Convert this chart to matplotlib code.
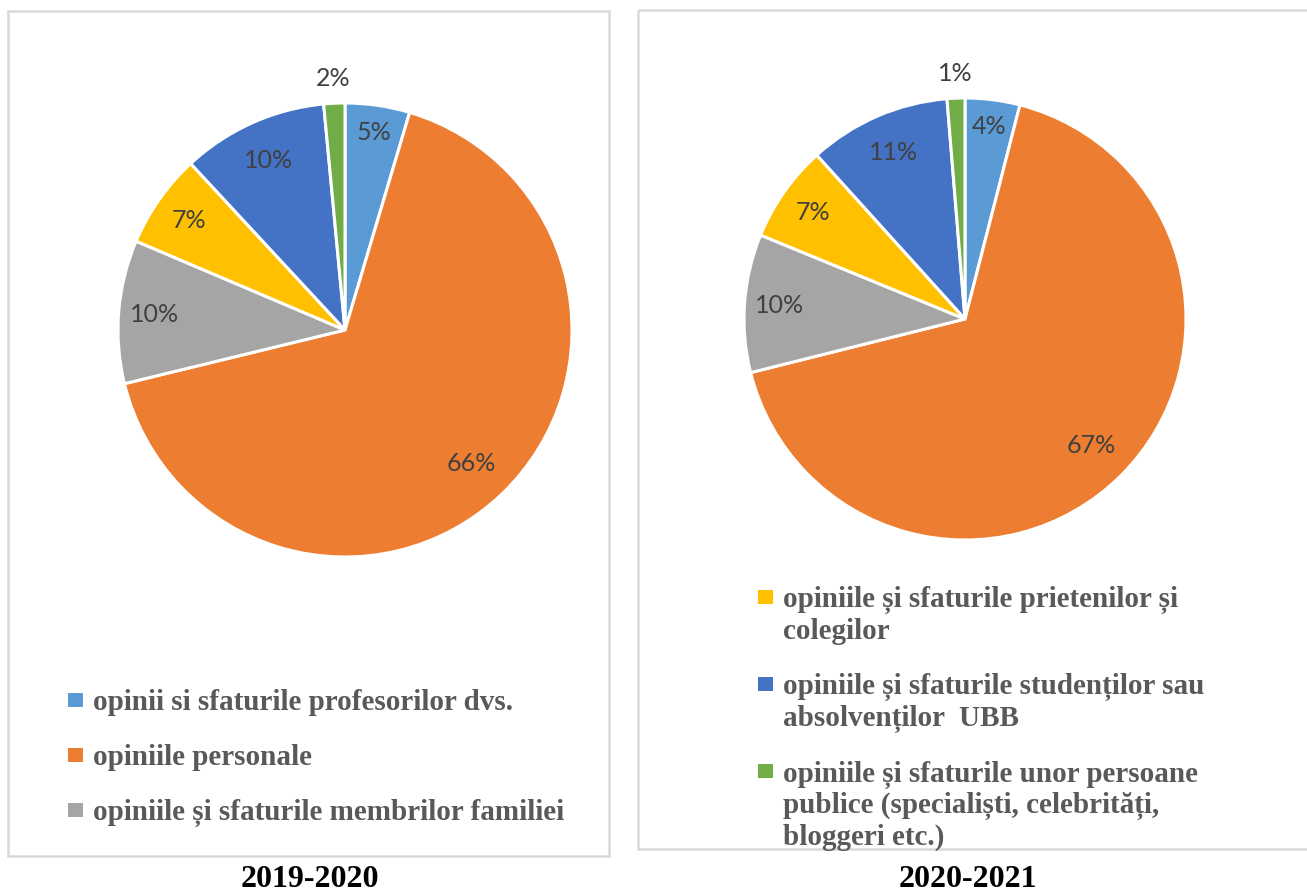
import numpy as np
import matplotlib.pyplot as plt
from matplotlib.patches import Rectangle

# Date (procente)
categorii = ['opinii si sfaturile profesorilor dvs.',
             'opiniile personale',
             'opiniile și sfaturile membrilor familiei',
             'opiniile și sfaturile prietenilor și\ncolegilor',
             'opiniile și sfaturile studenților sau\nabsolvenților  UBB',
             'opiniile și sfaturile unor persoane\npublice (specialiști, celebrități,\nbloggeri etc.)']
ponderi_2019 = [4.6, 66.6, 10.2, 6.7, 10.4, 1.5]
etichete_2019 = ['5%', '66%', '10%', '7%', '10%', '2%']
ponderi_2020 = [4.0, 67.1, 10.1, 7.1, 10.4, 1.3]
etichete_2020 = ['4%', '67%', '10%', '7%', '11%', '1%']
ani = ['2019-2020', '2020-2021']

culori = ['#5B9BD5', '#ED7D31', '#A5A5A5', '#FFC000', '#4472C4', '#70AD47']
dist_etichete = [0.88, 0.81, 0.84, 0.84, 0.82, 1.11]

W, H = 1307, 894
fig = plt.figure(figsize=(W / 100, H / 100), dpi=100)

# strat de fundal in pixeli
bg = fig.add_axes([0, 0, 1, 1])
bg.set_xlim(0, W)
bg.set_ylim(H, 0)
bg.axis('off')
bg.add_patch(Rectangle((8, 11), 601, 845, fill=False, ec='#D9D9D9', lw=1.8))
bg.add_patch(Rectangle((638, 10), 700, 839, fill=False, ec='#D9D9D9', lw=1.8))


def placinta(cx, cy, r, valori, etichete):
    ax = fig.add_axes([(cx - r) / W, 1 - (cy + r) / H, 2 * r / W, 2 * r / H])
    wedges, _ = ax.pie(valori, colors=culori, startangle=90, counterclock=False,
                       radius=1, wedgeprops=dict(edgecolor='white', linewidth=2.2))
    ax.set_xlim(-1, 1)
    ax.set_ylim(-1, 1)
    ax.axis('off')
    for w, et, d in zip(wedges, etichete, dist_etichete):
        a = np.deg2rad((w.theta1 + w.theta2) / 2)
        ax.text(d * np.cos(a), d * np.sin(a), et, ha='center', va='center',
                fontsize=18, color='#404040', family='Lato')
    return ax


placinta(345, 330, 227, ponderi_2019, etichete_2019)
placinta(965, 319, 221, ponderi_2020, etichete_2020)

PAS_RAND = 32


def legenda(x_marc, x_text, y0, idx):
    y = y0
    for i in idx:
        n = categorii[i].count('\n')
        bg.add_patch(Rectangle((x_marc, y - 17), 15, 14, color=culori[i], lw=0))
        # 'baseline' aliniaza ultimul rand la y
        bg.text(x_text, y + PAS_RAND * n, categorii[i], fontsize=21, fontweight='bold',
                family='Liberation Serif', color='#595959', va='baseline',
                linespacing=1.17)
        y += 55 + PAS_RAND * n


legenda(68, 93, 710, [0, 1, 2])
legenda(758, 783, 607, [3, 4, 5])

for x, an in zip([310, 968], ani):
    bg.text(x, 887, an, fontsize=23, fontweight='bold', family='Liberation Serif',
            color='black', ha='center', va='baseline')

plt.savefig('out.png', dpi=100)
